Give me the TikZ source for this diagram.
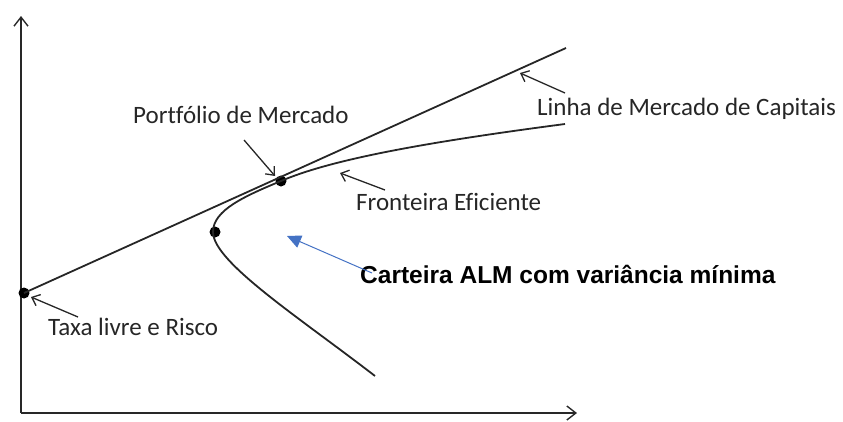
\documentclass[tikz,border=0pt]{standalone}
\usepackage{fontspec}
\setmainfont{Carlito}[Ligatures=CommonOff]
\newfontfamily\boldlabel{Liberation Sans}
\usetikzlibrary{arrows.meta}
\definecolor{axisgray}{RGB}{40,40,40}
\definecolor{almblue}{RGB}{68,114,196}
\tikzset{
  axisline/.style={draw=axisgray, line width=1.8pt, -{Straight Barb[length=9pt,width=14pt,line width=1.4pt]}},
  curveline/.style={draw=black!85, line width=1.8pt},
  pointer/.style={draw=black!85, line width=1.3pt, -{Straight Barb[length=7pt,width=12pt,line width=1.3pt]}},
  lbl/.style={font=\fontsize{25}{28}\selectfont, text=black!85, inner sep=0pt, anchor=base west},
  dotmark/.style={circle, fill=black, inner sep=0pt, minimum size=11pt},
  almlbl/.style={font=\boldlabel\bfseries\fontsize{24.5}{27}\selectfont, inner sep=0pt, anchor=base west},
  almarrow/.style={draw=almblue, line width=1pt, -{Triangle[length=14pt,width=13pt]}}
}
\begin{document}
\begin{tikzpicture}[x=1pt,y=-1pt]
\useasboundingbox (0,0) rectangle (843,421);
% axes
\coordinate (O) at (21,413);
\coordinate (ytop) at (21,16);
\coordinate (xend) at (577,413);
\draw[axisline] (O) -- (ytop);
\draw[axisline] (O) -- (xend);
% points
\node[dotmark] (rf) at (24,293) {};
\node[dotmark] (mp) at (281,181) {};
\node[dotmark] (mv) at (215,232) {};
\coordinate (cmlend) at (566,48);
\coordinate (frtop) at (565,124);
\coordinate (frbot) at (375,376);
% capital market line
\draw[curveline] (rf.center) -- (cmlend);
% efficient frontier
\draw[curveline] (frtop) .. controls (420,143) and (330,160) .. (mp.center)
  .. controls (245,196) and (213,210) .. (213,232)
  .. controls (213,262) and (300,318) .. (frbot);
% labels
\node[lbl] (lpm) at (133,123) {Portfólio de Mercado};
\node[lbl] (llm) at (537,115) {Linha de Mercado de Capitais};
\node[lbl] (lfe) at (356,210) {Fronteira Eficiente};
\node[lbl] (ltx) at (48,335) {Taxa livre e Risco};
\node[almlbl] (lalm) at (360,283) {Carteira ALM com variância mínima};
% pointer arrows
\coordinate (p1s) at (244,140); \coordinate (p1e) at (275,176);
\coordinate (p2s) at (565,93);  \coordinate (p2e) at (520,73);
\coordinate (p3s) at (385,190); \coordinate (p3e) at (340,173);
\coordinate (p4s) at (78,317);  \coordinate (p4e) at (31,297);
\draw[pointer] (p1s) -- (p1e);
\draw[pointer] (p2s) -- (p2e);
\draw[pointer] (p3s) -- (p3e);
\draw[pointer] (p4s) -- (p4e);
\coordinate (a5s) at (372,273);
\coordinate (a5e) at (287,236);
\draw[almarrow] (a5s) -- (a5e);
\end{tikzpicture}
\end{document}
